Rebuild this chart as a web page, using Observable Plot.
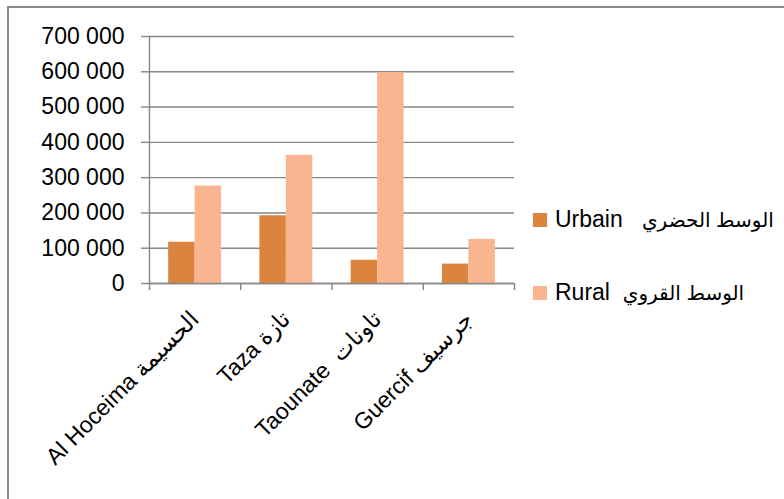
<!DOCTYPE html>
<html>
<head>
<meta charset="utf-8">
<script src="https://cdn.jsdelivr.net/npm/d3@7"></script>
<script src="https://cdn.jsdelivr.net/npm/@observablehq/plot@0.6"></script>
<style>
  html, body { margin: 0; padding: 0; background: #fff; }
  #wrap { position: relative; width: 784px; height: 499px; overflow: hidden; font-family: "Liberation Sans", "DejaVu Sans", sans-serif; }
  #border { position: absolute; left: 7px; top: 6px; width: 800px; height: 520px; border: 2px solid #8a8a8a; box-sizing: border-box; }
  #chart { position: absolute; left: 0; top: 0; }
  .leg { position: absolute; left: 533px; display: flex; align-items: center; font-size: 23px; color: #000; white-space: pre; }
  .sw { width: 14px; height: 14px; margin-right: 8px; }
  .ar { font-size: 20px; }
</style>
</head>
<body>
<div id="wrap">
  <div id="border"></div>
  <div id="chart"></div>
  <div id="legend"></div>
</div>
<script>
const categories = ["Al Hoceima الحسيمة", "Taza تازة", "Taounate  تاونات", "Guercif جرسيف"];
const urbain = [117000, 192000, 66000, 55000];
const rural = [276000, 363000, 598000, 125000];
const seriesLatin = ["Urbain", "Rural"];
const seriesArabic = ["الوسط الحضري", "الوسط القروي"];
const seriesColors = ["#DB843D", "#F8B590"];
const yTicks = [0, 100000, 200000, 300000, 400000, 500000, 600000, 700000];

const rows = [];
categories.forEach((c, i) => {
  rows.push({i, series: 0, value: urbain[i]});
  rows.push({i, series: 1, value: rural[i]});
});
const offsets = [[0.21, 0.5], [0.5, 0.79]];
const fmt = v => d3.format(",")(v).replace(/,/g, " ");

const svg = Plot.plot({
  width: 784,
  height: 499,
  marginLeft: 149,
  marginRight: 270,
  marginTop: 36,
  marginBottom: 216,
  style: {fontFamily: "Liberation Sans, DejaVu Sans, sans-serif", fontSize: "23px", color: "#000", background: "transparent"},
  x: {type: "linear", domain: [0, categories.length]},
  y: {domain: [0, 700000]},
  marks: [
    Plot.gridY(yTicks, {stroke: "#868686", strokeOpacity: 1, strokeWidth: 1.4}),
    Plot.rectY(rows, {
      x1: d => d.i + offsets[d.series][0],
      x2: d => d.i + offsets[d.series][1],
      y1: 0,
      y2: "value",
      fill: d => seriesColors[d.series]
    }),
    Plot.ruleX([0], {stroke: "#868686", strokeWidth: 1.4}),
    Plot.ruleY([0], {stroke: "#868686", strokeWidth: 1.4}),
    Plot.axisY(yTicks, {tickFormat: fmt, tickSize: 8, tickPadding: 17, stroke: "#868686", strokeWidth: 1.4, fontSize: 23, fill: "#000", label: null}),
    Plot.axisX(d3.range(categories.length + 1), {tickFormat: () => "", tickSize: 7, stroke: "#868686", strokeWidth: 1.4, label: null}),
    Plot.axisX(categories.map((c, i) => i + 0.5), {
      tickFormat: v => categories[Math.floor(v)],
      tickSize: 0,
      tickRotate: -45,
      tickPadding: 32,
      fontSize: 23,
      fill: "#000",
      label: null
    })
  ]
});
document.getElementById("chart").appendChild(svg);

const legend = document.getElementById("legend");
const legTops = [206, 279];
const gaps = ["   ", "  "];
seriesLatin.forEach((name, k) => {
  const row = document.createElement("div");
  row.className = "leg";
  row.style.top = legTops[k] + "px";
  row.innerHTML = `<div class="sw" style="background:${seriesColors[k]}"></div><span>${name}${gaps[k]}</span><span class="ar" dir="rtl">${seriesArabic[k]}</span>`;
  legend.appendChild(row);
});
</script>
</body>
</html>
